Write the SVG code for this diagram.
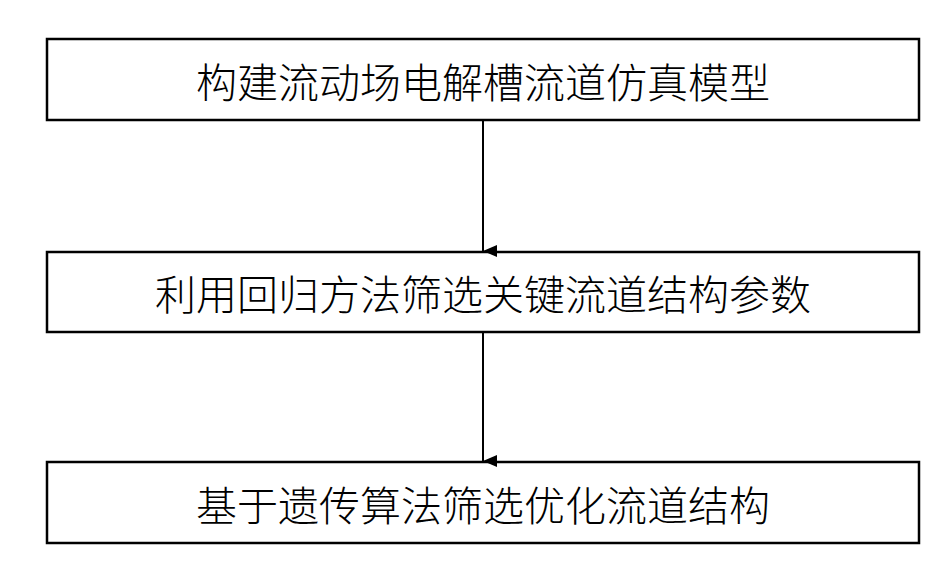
<svg xmlns="http://www.w3.org/2000/svg" width="938" height="579" viewBox="0 0 938 579">
<style>
.box{fill:#fff;stroke:#000;stroke-width:2.5}
.t{font-family:"Noto Sans CJK SC",sans-serif;font-size:41px;font-weight:300;fill:#000;text-anchor:middle;dominant-baseline:central}
.c{stroke:#000;stroke-width:2;fill:none}
</style>
<defs><marker id="a" markerWidth="12" markerHeight="14" refX="6" refY="14" orient="auto" markerUnits="userSpaceOnUse" viewBox="0 0 12 14"><path d="M0,0 L6,14 L12,0 Z" fill="#000"/></marker></defs>
<rect width="938" height="579" fill="#fff"/>
<g id="n1"><rect class="box" x="47" y="39" width="872" height="81"/><text class="t" x="483" y="80">构建流动场电解槽流道仿真模型</text></g>
<g id="n2"><rect class="box" x="47" y="252" width="872" height="80"/><text class="t" x="483" y="292">利用回归方法筛选关键流道结构参数</text></g>
<g id="n3"><rect class="box" x="47" y="462" width="872" height="81"/><text class="t" x="483" y="503">基于遗传算法筛选优化流道结构</text></g>
<g id="connectors">
<line class="c" x1="483" y1="120" x2="483" y2="251" marker-end="url(#a)"/>
<line class="c" x1="483" y1="332" x2="483" y2="461" marker-end="url(#a)"/>
</g>
</svg>
